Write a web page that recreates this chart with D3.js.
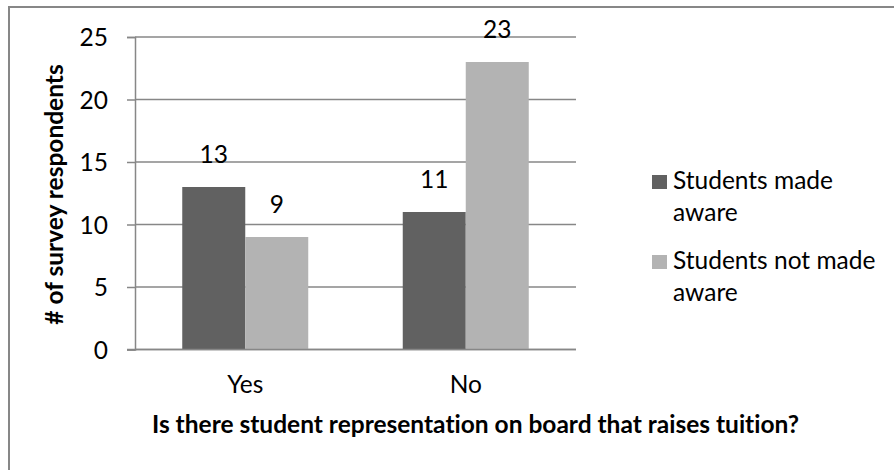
<!DOCTYPE html>
<html>
<head>
<meta charset="utf-8">
<script src="https://cdn.jsdelivr.net/npm/d3@7"></script>
<style>
  body { margin: 0; background: #fff; }
  svg text { font-family: Lato, 'Open Sans', sans-serif; fill: #000; font-variant-ligatures: none; }
</style>
</head>
<body>
<div class="canvas"></div>
<script>
// data
const categories = ['Yes', 'No'];
const seriesNames = ['Students made aware', 'Students not made aware'];
const madeAware = [13, 11];
const notMadeAware = [9, 23];
const yTicks = [0, 5, 10, 15, 20, 25];

const rows = categories.map((c, i) => ({
  key: c,
  values: [
    { series: seriesNames[0], value: madeAware[i] },
    { series: seriesNames[1], value: notMadeAware[i] },
  ],
}));

const dims = { width: 894, height: 470 };
const plot = { left: 135, right: 576, top: 37, bottom: 349.5 };
const fs = 24.5;

const svg = d3
  .select('.canvas')
  .append('svg')
  .attr('width', dims.width)
  .attr('height', dims.height);

// chart border (cropped on right/bottom)
svg
  .append('path')
  .attr('d', `M9,${dims.height} L9,7 L${dims.width},7`)
  .attr('fill', 'none')
  .attr('stroke', '#878787')
  .attr('stroke-width', 2);

const y = d3.scaleLinear().domain([0, 25]).range([plot.bottom, plot.top]);

const x0 = d3
  .scaleBand()
  .domain(categories)
  .range([plot.left, plot.right])
  .padding(0);

const x1 = d3
  .scaleBand()
  .domain(seriesNames)
  .range([0, x0.bandwidth()])
  .paddingInner(0)
  .paddingOuter(0.75);

const color = d3.scaleOrdinal().domain(seriesNames).range(['#616161', '#b3b3b3']);

// gridlines
svg
  .append('g')
  .selectAll('line')
  .data(yTicks)
  .join('line')
  .attr('x1', plot.left)
  .attr('x2', plot.right)
  .attr('y1', (d) => y(d))
  .attr('y2', (d) => y(d))
  .attr('stroke', '#878787')
  .attr('stroke-width', 1.5);

// y axis
const yAxis = svg
  .append('g')
  .attr('transform', `translate(${plot.left},0)`)
  .call(d3.axisLeft(y).tickValues(yTicks).tickSize(8).tickPadding(19));

yAxis.select('.domain').attr('stroke', '#878787').attr('stroke-width', 1.5);
yAxis.selectAll('.tick line').attr('stroke', '#878787').attr('stroke-width', 1.5);
yAxis
  .selectAll('.tick text')
  .attr('font-size', fs)
  .attr('font-family', 'Lato, sans-serif')
  .attr('fill', '#000')
  .attr('dy', '0.36em');

// bars
const groups = svg
  .append('g')
  .selectAll('g')
  .data(rows)
  .join('g')
  .attr('transform', (d) => `translate(${x0(d.key)},0)`);

groups
  .selectAll('rect')
  .data((d) => d.values)
  .join('rect')
  .attr('x', (d) => x1(d.series))
  .attr('width', x1.bandwidth())
  .attr('y', (d) => y(d.value))
  .attr('height', (d) => y(0) - y(d.value))
  .attr('fill', (d) => color(d.series));

// data labels
groups
  .selectAll('text')
  .data((d) => d.values)
  .join('text')
  .attr('x', (d) => x1(d.series) + x1.bandwidth() / 2)
  .attr('y', (d) => y(d.value) - 24)
  .attr('text-anchor', 'middle')
  .attr('font-size', fs)
  .text((d) => d.value);

// x axis baseline
svg
  .append('line')
  .attr('x1', plot.left - 8)
  .attr('x2', plot.right)
  .attr('y1', y(0))
  .attr('y2', y(0))
  .attr('stroke', '#878787')
  .attr('stroke-width', 1.5);

// category labels
svg
  .append('g')
  .selectAll('text')
  .data(categories)
  .join('text')
  .attr('x', (d) => x0(d) + x0.bandwidth() / 2)
  .attr('y', 393)
  .attr('text-anchor', 'middle')
  .attr('font-size', fs)
  .text((d) => d);

// axis titles
svg
  .append('text')
  .attr('x', 475.5)
  .attr('y', 433)
  .attr('text-anchor', 'middle')
  .attr('font-size', fs)
  .attr('font-weight', 'bold')
  .text('Is there student representation on board that raises tuition?');

svg
  .append('text')
  .attr('transform', `translate(63,194.5) rotate(-90)`)
  .attr('text-anchor', 'middle')
  .attr('font-size', fs)
  .attr('font-weight', 'bold')
  .text('# of survey respondents');

// legend
const legendLines = [
  ['Students made', 'aware'],
  ['Students not made', 'aware'],
];
const legend = svg
  .append('g')
  .selectAll('g')
  .data(seriesNames)
  .join('g')
  .attr('transform', (d, i) => `translate(652,${189 + i * 80})`);

legend
  .append('rect')
  .attr('x', 0)
  .attr('y', -14)
  .attr('width', 15)
  .attr('height', 14)
  .attr('fill', (d) => color(d));

legend
  .append('text')
  .attr('x', 21)
  .attr('font-size', fs)
  .selectAll('tspan')
  .data((d, i) => legendLines[i])
  .join('tspan')
  .attr('x', 21)
  .attr('y', (d, i) => i * 32)
  .text((d) => d);
</script>
</body>
</html>
